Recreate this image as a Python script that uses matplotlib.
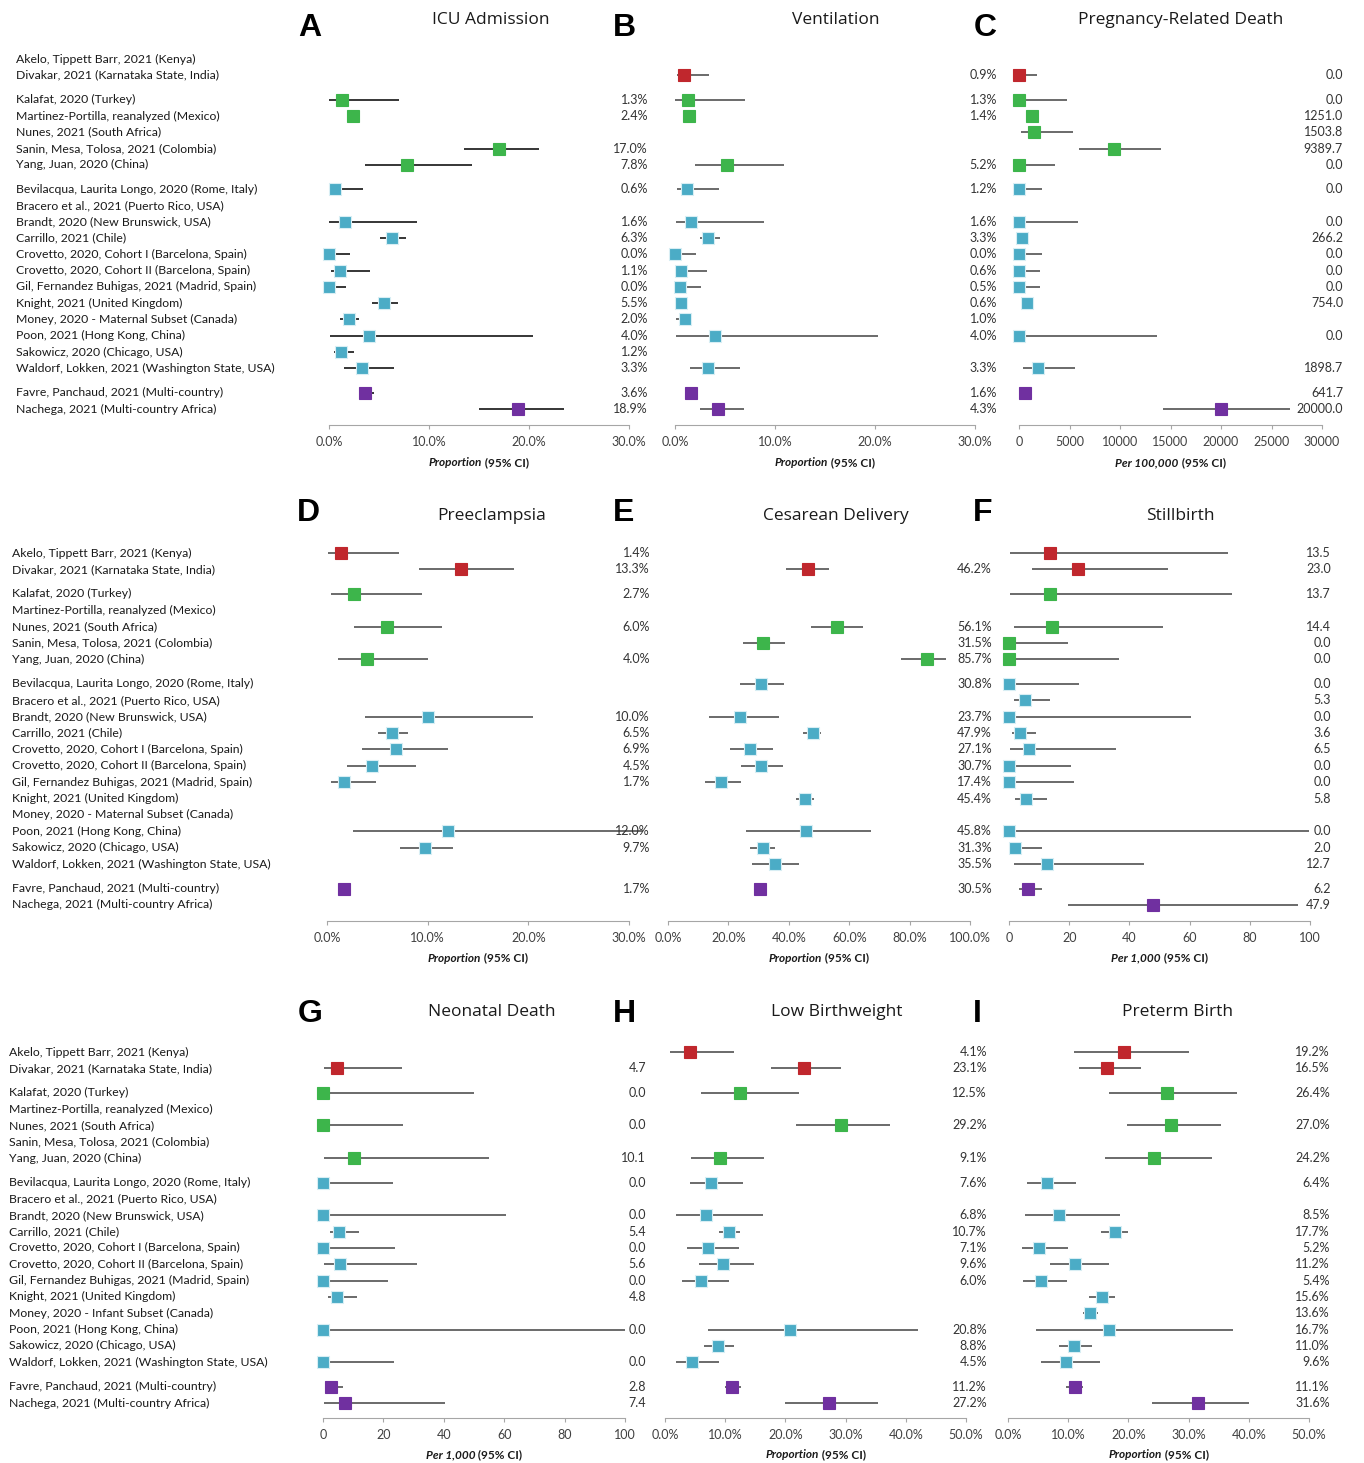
import numpy as np
import matplotlib.pyplot as plt
from matplotlib.transforms import blended_transform_factory

plt.rcParams['font.family'] = ['Lato', 'DejaVu Sans']

nan = np.nan

studies = [
    'Akelo, Tippett Barr, 2021 (Kenya)',
    'Divakar, 2021 (Karnataka State, India)',
    'Kalafat, 2020 (Turkey)',
    'Martinez-Portilla, reanalyzed (Mexico)',
    'Nunes, 2021 (South Africa)',
    'Sanin, Mesa, Tolosa, 2021 (Colombia)',
    'Yang, Juan, 2020 (China)',
    'Bevilacqua, Laurita Longo, 2020 (Rome, Italy)',
    'Bracero et al., 2021 (Puerto Rico, USA)',
    'Brandt, 2020 (New Brunswick, USA)',
    'Carrillo, 2021 (Chile)',
    'Crovetto, 2020, Cohort I (Barcelona, Spain)',
    'Crovetto, 2020, Cohort II (Barcelona, Spain)',
    'Gil, Fernandez Buhigas, 2021 (Madrid, Spain)',
    'Knight, 2021 (United Kingdom)',
    'Money, 2020 - Maternal Subset (Canada)',
    'Poon, 2021 (Hong Kong, China)',
    'Sakowicz, 2020 (Chicago, USA)',
    'Waldorf, Lokken, 2021 (Washington State, USA)',
    'Favre, Panchaud, 2021 (Multi-country)',
    'Nachega, 2021 (Multi-country Africa)',
]
studies_infant = list(studies)
studies_infant[15] = 'Money, 2020 - Infant Subset (Canada)'

# study group of each row (0 red, 1 green, 2 teal, 3 purple)
groups = [0, 0, 1, 1, 1, 1, 1, 2, 2, 2, 2, 2, 2, 2, 2, 2, 2, 2, 2, 3, 3]
group_colors = ['#C0272D', '#3DB54B', '#4BACC6', '#7030A0']

# A - ICU admission (%)
icu_est = [nan, nan, 1.3, 2.4, nan, 17.0, 7.8, 0.6, nan, 1.6, 6.3, 0.0, 1.1, 0.0, 5.5, 2.0, 4.0, 1.2, 3.3, 3.6, 18.9]
icu_lo = [nan, nan, 0.0, 2.1, nan, 13.5, 3.6, 0.0, nan, 0.0, 5.1, 0.0, 0.2, 0.0, 4.3, 1.1, 0.1, 0.5, 1.5, 3.0, 15.0]
icu_hi = [nan, nan, 7.0, 2.7, nan, 21.0, 14.3, 3.4, nan, 8.8, 7.7, 2.1, 4.1, 1.7, 6.9, 3.0, 20.4, 2.5, 6.5, 4.5, 23.5]

# B - ventilation (%)
vent_est = [nan, 0.9, 1.3, 1.4, nan, nan, 5.2, 1.2, nan, 1.6, 3.3, 0.0, 0.6, 0.5, 0.6, 1.0, 4.0, nan, 3.3, 1.6, 4.3]
vent_lo = [nan, 0.2, 0.0, 1.1, nan, nan, 2.0, 0.2, nan, 0.1, 2.5, 0.0, 0.0, 0.0, 0.4, 0.1, 0.1, nan, 1.5, 1.2, 2.5]
vent_hi = [nan, 3.4, 7.0, 1.7, nan, nan, 10.9, 4.4, nan, 8.9, 4.5, 2.1, 3.2, 2.6, 1.3, 1.5, 20.3, nan, 6.5, 2.2, 6.9]

# C - pregnancy-related death (per 100,000)
death_est = [nan, 0.0, 0.0, 1251.0, 1503.8, 9389.7, 0.0, 0.0, nan, 0.0, 266.2, 0.0, 0.0, 0.0, 754.0, nan, 0.0, nan, 1898.7, 641.7, 20000.0]
death_lo = [nan, 0, 0, 1000, 200, 5900, 0, 0, nan, 0, 0, 0, 0, 0, 430, nan, 0, nan, 430, 100, 14300]
death_hi = [nan, 1750, 4800, 1500, 5300, 14100, 3600, 2250, nan, 5800, 760, 2250, 2100, 2100, 1480, nan, 13700, nan, 5500, 1050, 26800]

# D - preeclampsia (%)
pre_est = [1.4, 13.3, 2.7, nan, 6.0, nan, 4.0, nan, nan, 10.0, 6.5, 6.9, 4.5, 1.7, nan, nan, 12.0, 9.7, nan, 1.7, nan]
pre_lo = [0.1, 9.1, 0.4, nan, 2.7, nan, 1.1, nan, nan, 3.8, 5.1, 3.5, 2.0, 0.4, nan, nan, 2.6, 7.3, nan, 1.1, nan]
pre_hi = [7.2, 18.6, 9.4, nan, 11.4, nan, 10.0, nan, nan, 20.5, 8.0, 12.0, 8.8, 4.9, nan, nan, 31.4, 12.5, nan, 2.3, nan]

# E - cesarean delivery (%)
ces_est = [nan, 46.2, nan, nan, 56.1, 31.5, 85.7, 30.8, nan, 23.7, 47.9, 27.1, 30.7, 17.4, 45.4, nan, 45.8, 31.3, 35.5, 30.5, nan]
ces_lo = [nan, 39.2, nan, nan, 47.3, 24.8, 77.2, 23.7, nan, 13.7, 44.8, 20.5, 24.1, 12.1, 42.3, nan, 25.7, 27.2, 27.9, 28.9, nan]
ces_hi = [nan, 53.2, nan, nan, 64.6, 38.9, 92.0, 38.5, nan, 36.6, 50.8, 34.7, 38.1, 24.1, 48.4, nan, 67.2, 35.4, 43.5, 32.9, nan]

# F - stillbirth (per 1,000)
still_est = [13.5, 23.0, 13.7, nan, 14.4, 0.0, 0.0, 0.0, 5.3, 0.0, 3.6, 6.5, 0.0, 0.0, 5.8, nan, 0.0, 2.0, 12.7, 6.2, 47.9]
still_lo = [0.2, 7.5, 0.2, nan, 1.8, 0, 0, 0, 1.5, 0, 1.1, 0.2, 0, 0, 2.1, nan, 0, 0.1, 1.5, 3.2, 19.5]
still_hi = [72.9, 52.8, 74.0, nan, 51.0, 19.7, 36.5, 23.1, 13.5, 60.6, 9.1, 35.4, 20.5, 21.6, 12.5, nan, 99.8, 10.8, 45.0, 10.8, 96.0]

# G - neonatal death (per 1,000)
neo_est = [nan, 4.7, 0.0, nan, 0.0, nan, 10.1, 0.0, nan, 0.0, 5.4, 0.0, 5.6, 0.0, 4.8, nan, 0.0, nan, 0.0, 2.8, 7.4]
neo_lo = [nan, 0.3, 0, nan, 0, nan, 0.4, 0, nan, 0, 2.2, 0, 0.4, 0, 1.7, nan, 0, nan, 0, 1.1, 0.3]
neo_hi = [nan, 26.0, 50.0, nan, 26.6, nan, 55.0, 23.2, nan, 60.6, 11.8, 23.8, 31.1, 21.6, 11.3, nan, 100.0, nan, 23.5, 6.7, 40.3]

# H - low birthweight (%)
lbw_est = [4.1, 23.1, 12.5, nan, 29.2, nan, 9.1, 7.6, nan, 6.8, 10.7, 7.1, 9.6, 6.0, nan, nan, 20.8, 8.8, 4.5, 11.2, 27.2]
lbw_lo = [0.9, 17.6, 5.9, nan, 21.8, nan, 4.3, 4.1, nan, 1.9, 9.0, 3.7, 5.6, 2.9, nan, nan, 7.2, 6.5, 1.9, 9.9, 19.9]
lbw_hi = [11.5, 29.2, 22.3, nan, 37.4, nan, 16.5, 13.0, nan, 16.3, 12.5, 12.3, 14.8, 10.6, nan, nan, 42.0, 11.5, 8.9, 12.7, 35.3]

# I - preterm birth (%)
ptb_est = [19.2, 16.5, 26.4, nan, 27.0, nan, 24.2, 6.4, nan, 8.5, 17.7, 5.2, 11.2, 5.4, 15.6, 13.6, 16.7, 11.0, 9.6, 11.1, 31.6]
ptb_lo = [11.0, 11.8, 16.7, nan, 19.8, nan, 16.1, 3.2, nan, 2.8, 15.5, 2.3, 7.0, 2.5, 13.5, 12.5, 4.7, 8.5, 5.4, 9.7, 24.0]
ptb_hi = [30.0, 22.1, 38.0, nan, 35.3, nan, 33.9, 11.3, nan, 18.6, 20.0, 9.9, 16.7, 9.8, 17.8, 14.9, 37.3, 14.0, 15.3, 12.5, 40.1]

W, H = 1364, 1463
fig = plt.figure(figsize=(W / 100, H / 100), dpi=100)

# vertical position of each row (extra half row between groups)
ypos = np.arange(len(studies)) + 0.5 * np.array(groups)

row_top = [59, 553, 1052]      # pixel y of first study row
row_unit = [16.28, 16.37, 16.33]
axis_line = [425, 921, 1418]
xlabel_y = [463, 958, 1455]
letter_y = [28, 513, 1014]
title_y = [20, 516, 1012]

panels = [
    # row, x0, x1, letter, letter_x, title, title_x, value_right, est, lo, hi, xmax, step, kind, xlabel
    (0, 329, 629, 'A', 310, 'ICU Admission', 491, 648, icu_est, icu_lo, icu_hi, 30, 10, 'pct', 'Proportion'),
    (0, 675, 975, 'B', 624, 'Ventilation', 836, 997, vent_est, vent_lo, vent_hi, 30, 10, 'pct', 'Proportion'),
    (0, 1019, 1322, 'C', 985, 'Pregnancy-Related Death', 1181, 1343, death_est, death_lo, death_hi, 30000, 5000, 'int', 'Per 100,000'),
    (1, 327, 629, 'D', 308, 'Preeclampsia', 492, 650, pre_est, pre_lo, pre_hi, 30, 10, 'pct', 'Proportion'),
    (1, 668, 970, 'E', 624, 'Cesarean Delivery', 836, 992, ces_est, ces_lo, ces_hi, 100, 20, 'pct', 'Proportion'),
    (1, 1009, 1310, 'F', 983, 'Stillbirth', 1180, 1331, still_est, still_lo, still_hi, 100, 20, 'int', 'Per 1,000'),
    (2, 323, 625, 'G', 310, 'Neonatal Death', 492, 646, neo_est, neo_lo, neo_hi, 100, 20, 'int', 'Per 1,000'),
    (2, 665, 966, 'H', 624, 'Low Birthweight', 837, 987, lbw_est, lbw_lo, lbw_hi, 50, 10, 'pct', 'Proportion'),
    (2, 1008, 1309, 'I', 977, 'Preterm Birth', 1178, 1330, ptb_est, ptb_lo, ptb_hi, 50, 10, 'pct', 'Proportion'),
]
label_x = [16, 12, 9]

renderer = fig.canvas.get_renderer()

for k, (r, x0, x1, letter, lx, title, tx, vx, est, lo, hi, xmax, step, kind, xlab) in enumerate(panels):
    top_px = row_top[r] - 20
    bot_px = axis_line[r]
    ax = fig.add_axes([x0 / W, 1 - bot_px / H, (x1 - x0) / W, (bot_px - top_px) / H])
    ax.set_xlim(0, xmax)
    ax.set_ylim((bot_px - row_top[r]) / row_unit[r], (top_px - row_top[r]) / row_unit[r])
    ax.patch.set_alpha(0)

    line_col = '#262626' if k == 0 else '#5f5f5f'
    tr = blended_transform_factory(fig.transFigure, ax.transData)
    for i in range(len(studies)):
        if np.isnan(est[i]):
            continue
        ax.plot([lo[i], hi[i]], [ypos[i], ypos[i]], color=line_col, lw=1.3,
                solid_capstyle='butt', clip_on=False, zorder=2)
        c = group_colors[groups[i]]
        ax.plot(est[i], ypos[i], marker='s', ms=8, color=c, mec='#d8eef4' if groups[i] == 2 else c,
                mew=0.8, clip_on=False, zorder=3)
        txt = '%.1f%%' % est[i] if kind == 'pct' else '%.1f' % est[i]
        ax.text(vx / W, ypos[i], txt, transform=tr, ha='right', va='center',
                fontsize=9, color='#333333')

    ticks = np.arange(0, xmax + step / 2, step)
    ax.set_xticks(ticks)
    if kind == 'pct':
        ax.set_xticklabels(['%.1f%%' % t for t in ticks])
    else:
        ax.set_xticklabels(['%d' % t for t in ticks])
    ax.set_yticks([])
    for s in ['top', 'right', 'left']:
        ax.spines[s].set_visible(False)
    ax.spines['bottom'].set_color('#a6a6a6')
    ax.tick_params(axis='x', direction='out', length=3, color='#a6a6a6',
                   labelcolor='#404040', labelsize=9, pad=5)

    # study names in the first column
    if x0 < 400:
        names = studies_infant if letter == 'G' else studies
        for i, nm in enumerate(names):
            ax.text(label_x[r] / W, ypos[i], nm, transform=tr, ha='left', va='center',
                    fontsize=8.8, color='#1a1a1a')

    fig.text(lx / W, 1 - letter_y[r] / H, letter, fontsize=23, fontweight='bold',
             family='Liberation Sans', ha='center', va='center')
    fig.text(tx / W, 1 - title_y[r] / H, title, fontsize=12.5, family='Open Sans',
             ha='center', va='center', color='#1a1a1a')

    # axis label: italic part + plain part, centred under the axis
    yl = 1 - xlabel_y[r] / H
    t1 = fig.text(0, yl, xlab, fontsize=8.5, fontweight='bold', fontstyle='italic',
                  va='center', ha='left', color='#1a1a1a')
    t2 = fig.text(0, yl, ' (95% CI)', fontsize=8.5, fontweight='bold',
                  va='center', ha='left', color='#1a1a1a')
    w1 = t1.get_window_extent(renderer).width
    w2 = t2.get_window_extent(renderer).width
    xc = (x0 + x1) / 2
    start = xc - (w1 + w2) / 2
    t1.set_x(start / W)
    t2.set_x((start + w1) / W)

fig.savefig('out.png', dpi=100)
